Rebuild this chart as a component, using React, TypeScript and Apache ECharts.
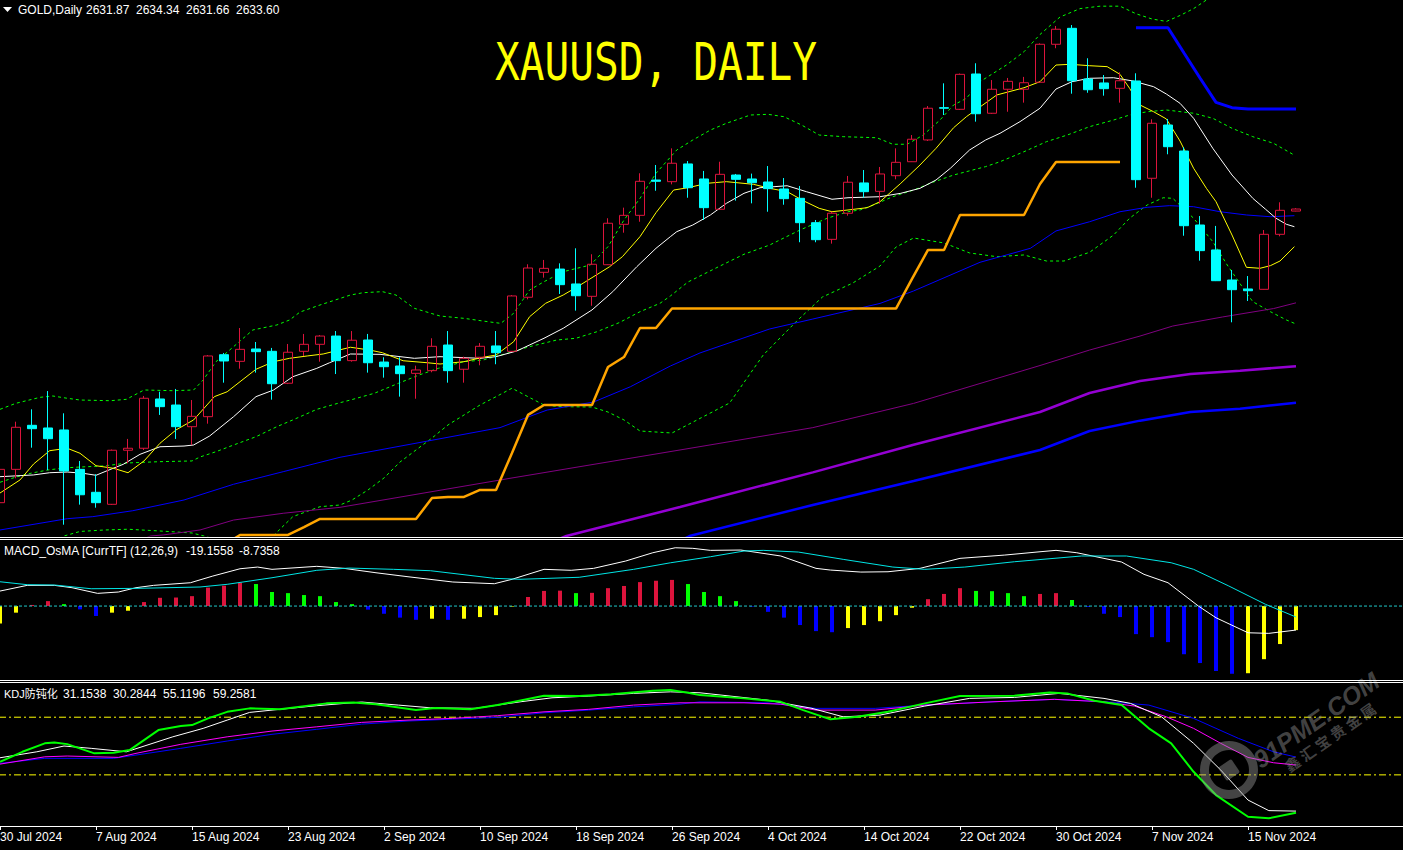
import React, { useEffect, useRef } from "react";
import * as echarts from "echarts";

// ---------- DATA ----------
const SLOTS = 89; // 82 bars + empty space on the right
const tickLabels = ["30 Jul 2024", "7 Aug 2024", "15 Aug 2024", "23 Aug 2024", "2 Sep 2024", "10 Sep 2024", "18 Sep 2024", "26 Sep 2024", "4 Oct 2024", "14 Oct 2024", "22 Oct 2024", "30 Oct 2024", "7 Nov 2024", "15 Nov 2024"];

// [open, close, low, high]
const candles = [
  [2381.6, 2410.2, 2374.7, 2412.5], [2410.2, 2446.3, 2402.5, 2451.1], [2448.0, 2445.1, 2428.8, 2461.7], [2445.7, 2436.5, 2409.6, 2477.4],
  [2444.0, 2408.8, 2362.7, 2458.3], [2410.2, 2388.4, 2379.9, 2417.4], [2390.5, 2381.6, 2377.3, 2406.0], [2380.2, 2426.6, 2379.6, 2427.2],
  [2426.6, 2428.3, 2415.4, 2436.3], [2428.3, 2471.2, 2426.8, 2473.2], [2470.6, 2464.0, 2456.9, 2476.8], [2465.4, 2446.8, 2436.3, 2479.2],
  [2446.8, 2455.7, 2431.1, 2469.7], [2455.4, 2507.5, 2449.4, 2508.3], [2508.6, 2503.2, 2484.6, 2510.1], [2502.9, 2513.2, 2496.6, 2531.5],
  [2513.5, 2511.2, 2493.2, 2519.5], [2511.5, 2483.7, 2470.0, 2514.4], [2484.1, 2510.7, 2483.4, 2517.8], [2511.5, 2517.5, 2507.5, 2526.4],
  [2517.5, 2524.6, 2502.6, 2525.5], [2524.6, 2503.5, 2492.0, 2528.9], [2503.5, 2521.0, 2502.6, 2528.9], [2521.2, 2501.7, 2493.2, 2526.4],
  [2502.3, 2498.3, 2488.9, 2506.4], [2498.9, 2492.3, 2472.6, 2506.4], [2492.6, 2495.5, 2470.8, 2499.2], [2494.9, 2515.8, 2493.5, 2522.7],
  [2516.9, 2494.9, 2484.6, 2528.9], [2496.1, 2505.5, 2484.6, 2506.9], [2506.4, 2515.8, 2499.5, 2518.6], [2516.1, 2510.3, 2500.4, 2528.9],
  [2511.5, 2559.0, 2510.9, 2559.8], [2557.9, 2583.0, 2556.1, 2586.2], [2579.3, 2582.7, 2574.7, 2589.9], [2582.1, 2568.7, 2560.7, 2587.0],
  [2569.3, 2559.2, 2546.4, 2599.9], [2558.7, 2586.2, 2550.6, 2594.8], [2585.8, 2621.4, 2585.6, 2625.7], [2620.5, 2628.2, 2613.3, 2634.8],
  [2628.2, 2657.4, 2622.7, 2664.3], [2658.5, 2657.4, 2649.3, 2671.4], [2657.1, 2672.9, 2654.8, 2685.7], [2672.3, 2651.9, 2643.3, 2674.8],
  [2659.4, 2634.8, 2624.2, 2666.3], [2633.4, 2663.4, 2632.8, 2674.2], [2662.8, 2659.1, 2640.8, 2663.7], [2659.4, 2656.2, 2638.5, 2664.0],
  [2656.8, 2651.1, 2631.3, 2670.5], [2650.8, 2642.5, 2637.3, 2660.2], [2642.8, 2621.9, 2605.1, 2653.4], [2621.9, 2607.3, 2605.1, 2624.2],
  [2607.6, 2630.0, 2603.9, 2631.3], [2630.0, 2656.6, 2627.9, 2662.0], [2656.0, 2648.5, 2643.3, 2667.1], [2648.8, 2663.7, 2638.2, 2669.7],
  [2662.2, 2673.7, 2659.1, 2685.7], [2674.2, 2693.5, 2674.0, 2697.1], [2692.9, 2720.1, 2692.0, 2722.0], [2720.6, 2720.1, 2714.3, 2741.5],
  [2719.2, 2749.2, 2718.6, 2749.9], [2749.5, 2715.4, 2708.6, 2758.7], [2715.8, 2736.4, 2715.2, 2744.3], [2736.4, 2743.2, 2717.1, 2746.1],
  [2736.4, 2742.0, 2724.9, 2747.0], [2742.4, 2775.0, 2741.8, 2775.8], [2775.0, 2787.9, 2771.6, 2790.7], [2788.7, 2743.7, 2732.6, 2791.5],
  [2745.2, 2736.0, 2733.4, 2763.0], [2741.8, 2736.9, 2730.9, 2748.6], [2737.2, 2743.7, 2724.9, 2751.0], [2743.5, 2658.8, 2651.9, 2750.1],
  [2660.0, 2707.2, 2643.3, 2710.6], [2705.7, 2687.1, 2680.6, 2710.9], [2683.4, 2619.3, 2610.7, 2686.6], [2619.9, 2597.9, 2589.3, 2627.6],
  [2598.5, 2572.1, 2571.8, 2619.1], [2572.7, 2564.4, 2536.4, 2581.3], [2565.0, 2563.5, 2554.7, 2576.1], [2564.7, 2611.9, 2564.5, 2615.6],
  [2611.9, 2632.5, 2610.2, 2639.4], [2631.87, 2633.60, 2631.66, 2634.34],
];

// main-panel indicator lines: [bar position, price]
const maFast = [[0,2389.9],[1.25,2401.1],[2.1,2414.8],[3.1,2426.2],[4.2,2428.3],[5,2424.0],[6,2413.3],[7.1,2411.1],[8,2407.3],[9,2417.4],[10,2432.6],[11,2444.0],[12.1,2452.6],[13.4,2472.6],[14.2,2476.8],[15,2485.4],[16,2496.1],[17.1,2502.6],[18.1,2505.5],[19.2,2507.5],[20.2,2509.2],[21.9,2515.0],[23.1,2512.6],[23.9,2510.3],[25.2,2503.4],[26.7,2501.7],[27.5,2500.6],[29,2502.6],[30.2,2506.4],[31,2508.3],[32.1,2519.7],[33.1,2541.2],[34.1,2552.7],[35.2,2559.8],[36.1,2567.0],[37,2574.7],[38.1,2584.1],[38.9,2592.7],[40,2609.9],[41,2630.5],[42.1,2649.9],[43,2651.9],[44.2,2655.7],[45.4,2657.1],[47.1,2654.8],[48.1,2651.4],[49.2,2648.5],[50.2,2640.8],[51.2,2634.2],[52,2631.3],[53,2632.8],[54.2,2634.75],[55,2639.9],[56.3,2655.7],[57.5,2671.4],[58.5,2685.7],[59.6,2703.4],[60.4,2712.85],[61.25,2721.2],[62.3,2731.5],[64,2737.7],[65,2742.9],[66,2757.2],[66.9,2757.8],[68.1,2756.6],[69.2,2755.8],[70,2749.2],[70.6,2737.2],[71.25,2722.9],[72.1,2717.1],[72.9,2710.9],[73.75,2692.0],[74.6,2668.6],[75.4,2651.4],[76,2639.9],[77,2611.3],[77.9,2583.6],[78.75,2582.75],[79.4,2585.0],[80,2589.0],[80.9,2601.3]];
const maSlow = [[0,2403.9],[2.1,2405.4],[3.1,2407.3],[4.2,2407.9],[5.2,2406.8],[6,2405.1],[6.7,2409.05],[7.7,2414.5],[8.75,2423.1],[10,2429.6],[11.5,2430.2],[12.1,2431.1],[13.1,2438.8],[14.6,2455.4],[16,2472.6],[17.1,2478.3],[18.3,2489.7],[19.8,2496.9],[20.6,2501.7],[21.9,2509.2],[23.75,2508.9],[25.9,2505.5],[27.5,2506.9],[30,2505.5],[31,2506.9],[32.3,2511.8],[34,2522.7],[35.2,2531.25],[37,2547.0],[38.3,2562.7],[39.8,2584.1],[41,2599.9],[41.9,2609.9],[42.3,2614.2],[43.3,2619.9],[44.4,2628.5],[45.4,2638.5],[46.5,2647.1],[47.5,2651.9],[49.2,2653.6],[50.4,2648.5],[52,2642.0],[53,2643.3],[55,2644.2],[56.3,2647.1],[57.5,2651.4],[58.5,2658.5],[59.4,2668.6],[60.6,2684.3],[61.6,2692.85],[62.5,2698.6],[63.75,2708.6],[65,2720.1],[66,2736.6],[67,2742.9],[68.1,2745.8],[69.6,2746.3],[70.8,2743.5],[72.1,2738.6],[72.9,2732.3],[73.75,2724.35],[74.6,2711.5],[75.8,2685.7],[77,2662.8],[78.3,2642.8],[79.1,2633.4],[79.75,2625.7],[80.4,2620.5],[80.9,2618.45]];
const bbUpper = [[0,2461.7],[1,2466.9],[2.5,2472.0],[3.3,2473.15],[4.2,2471.2],[5,2469.7],[6.9,2469.1],[7.9,2470.3],[9,2478.3],[10.8,2477.7],[12.1,2478.3],[12.7,2486.9],[13.5,2502.6],[14.6,2515.5],[15.8,2529.8],[17.3,2534.1],[18.1,2538.4],[18.75,2545.2],[20,2551.25],[21.9,2559.8],[22.7,2561.8],[23.9,2562.7],[24.75,2559.8],[25.9,2548.4],[27.5,2541.8],[29,2539.8],[30.5,2536.9],[31.3,2535.5],[32.1,2544.1],[33.1,2564.1],[34,2571.25],[35.2,2579.8],[36.9,2585.6],[38,2601.3],[39,2624.2],[40,2642.8],[41,2664.3],[42.3,2684.3],[43.3,2692.85],[44.4,2701.4],[45.4,2707.2],[46.9,2714.3],[48,2714.9],[49,2712.85],[50.1,2705.7],[51.2,2697.1],[52.7,2695.7],[54.8,2694.8],[55.8,2689.2],[56.7,2689.2],[57.7,2697.1],[58.75,2710.0],[59.6,2722.9],[60.4,2728.6],[61.25,2742.9],[62.9,2757.2],[64,2768.6],[65,2783.4],[66.25,2798.4],[67.5,2805.6],[68.75,2807.7],[70,2807.7],[71,2801.2],[72,2796.7],[72.9,2794.6],[73.75,2799.7],[74.6,2805.6],[75.4,2813],[76.5,2823.3],[78,2834.5],[80,2845.6],[81,2849.9]];
const bbMiddle = [[0,2399.1],[1,2403.6],[2,2407.1],[3,2409.65],[4,2411.4],[5,2412.2],[6.5,2413.1],[8,2415.7],[10,2416.8],[12,2417.4],[12.5,2420.8],[13.5,2425.35],[14.6,2431.1],[16,2438.2],[17.3,2446.8],[18.3,2452.6],[19.8,2461.7],[21.25,2467.4],[21.9,2469.7],[23.4,2475.5],[24.9,2484.05],[26.2,2491.2],[27.4,2496.9],[29,2502.6],[30.2,2504.05],[31.7,2509.8],[33.1,2515.5],[34.8,2521.2],[36,2522.7],[37.3,2528.3],[38.7,2536.1],[40,2545.5],[41.25,2552.7],[41.9,2559.0],[43,2571.0],[45,2584.7],[46.5,2594.8],[48.1,2602.7],[50,2615.6],[51.7,2625.7],[53,2631.3],[53.75,2632.8],[54.6,2637.1],[55.8,2644.2],[57.1,2649.9],[58.3,2656.55],[59.6,2662.8],[60.8,2667.1],[61.6,2670.0],[62.5,2674.2],[64,2682.8],[65.4,2691.4],[66.7,2697.1],[68.1,2704.3],[69.6,2710.0],[70.6,2714.3],[71.7,2717.1],[72.9,2718.6],[74.6,2715.8],[75.8,2711.5],[77,2702.9],[78.3,2695.7],[79.6,2690.0],[80.8,2680.6]];
const bbLower = [[2,2340.0],[3,2345.3],[4,2353.0],[5,2356.9],[6.5,2358.15],[8,2358.8],[10,2357.3],[12,2355.6],[13,2352.1],[14,2345.3],[15,2341.0],[16,2345.3],[17,2352.1],[18.3,2369.6],[20,2378.15],[21.25,2379.6],[22,2383.9],[23,2392.5],[24,2402.8],[25,2416.5],[26,2426.8],[27,2437.1],[28,2448.3],[29,2456.85],[30,2465.4],[31,2472.55],[32,2479.8],[33,2472.55],[34,2465.4],[35,2464.0],[37,2463.7],[38,2459.4],[39,2452.6],[40,2443.1],[42,2441.4],[45.6,2467.15],[47.7,2508.3],[49.8,2537.5],[51.4,2558.1],[53.3,2570.1],[55,2584.7],[56,2601.0],[57.1,2608.75],[59,2604.5],[60.6,2595.9],[62.3,2592.7],[64,2594.2],[65.4,2589.0],[66.5,2589.0],[68.1,2596.5],[69.6,2611.3],[70.6,2625.7],[71.7,2637.1],[72.7,2643.3],[73.3,2642.8],[74.6,2625.7],[75.8,2605.6],[76.7,2585.6],[77.7,2565.6],[78.3,2554.1],[79.4,2545.5],[80.4,2538.4],[80.9,2535.5]];
const maBlueThin = [[0,2358.15],[4.2,2367.85],[5.8,2369.6],[8.3,2374.7],[11.5,2383.9],[14.6,2397.4],[17.7,2408.2],[21.25,2420.55],[31.25,2446.0],[33,2455.1],[34.2,2461.1],[37.1,2468.0],[39.4,2481.1],[41.9,2498.9],[43.75,2510.1],[48.1,2530.65],[50.8,2539.2],[55,2552.6],[57.1,2563.3],[61.25,2587.9],[64.4,2599.9],[66,2614.8],[68.1,2622.7],[70,2631.3],[71.7,2635.1],[73.1,2636.5],[74.6,2635.6],[76.25,2631.3],[77.9,2628.5],[79.4,2627.0],[80.9,2627.9]];
const maPurple = [[8,2345.3],[9.4,2353.0],[10.2,2353.9],[12.5,2358.15],[14.6,2366.7],[17.7,2372.5],[21.25,2377.6],[32,2402.8],[43.75,2429.7],[50.8,2446.0],[57.1,2466.8],[65,2499.3],[68.1,2512.6],[71.25,2524.6],[73.3,2533.2],[76.4,2540.95],[79.6,2548.2],[81,2553.1]];
const maViolet = [[34,2345.3],[35.4,2353.0],[42.5,2377.9],[43.75,2382.4],[50.8,2407.6],[57.1,2431.3],[65,2459.4],[68.1,2475.7],[71.25,2486.0],[74.4,2492.0],[77.5,2494.9],[81,2498.7]];
const maBlueThick = [[42,2345.3],[43.1,2353.0],[50.8,2379.6],[57.1,2400.2],[65,2426.8],[68.1,2443.1],[71.25,2452.0],[74.4,2459.4],[77.5,2462.3],[81,2467.3]];
const stopOrange = [[14,2345.3],[15,2353.9],[18,2353.9],[19,2360.7],[20,2367.6],[26,2367.6],[27,2385.6],[28,2386.5],[29,2386.5],[30,2392.5],[31,2392.5],[32,2424.2],[33,2456.9],[34,2465.4],[37,2465.4],[38,2498.0],[39,2506.6],[40,2531.5],[41,2531.5],[42,2548.2],[56,2548.2],[57,2573.6],[58,2598.5],[59,2598.5],[60,2628.5],[64,2628.5],[65,2655.1],[66,2674.0],[70,2674.0]];
const stopBlue = [[71,2789.2],[73,2789.2],[74,2767.5],[75,2746.1],[76,2725.2],[77,2720.6],[78,2719.5],[81,2719.5]];

// MACD_OsMA panel
const osma = [-6.3,-2.4,0.4,1.8,0.7,-1.2,-3.6,-2.4,-1.7,1.45,3.0,3.1,3.6,6.7,7.4,8.5,8.0,5.1,4.7,4.0,3.6,1.45,0.7,-1.3,-2.8,-4.2,-5.0,-4.6,-5.0,-4.6,-4.0,-3.3,-0.2,3.3,5.5,5.6,4.7,4.8,6.5,7.3,8.7,9.2,9.5,8.0,5.1,3.6,1.8,-0.2,-2.1,-4.2,-6.9,-9.1,-9.5,-8.0,-6.9,-5.5,-3.3,-0.6,2.5,4.4,6.5,5.5,5.4,4.7,3.6,4.4,4.7,2.2,-0.3,-2.8,-4.0,-10.2,-11.3,-13.1,-17.5,-20.7,-23.6,-24.6,-24.4,-19.3,-13.8,-8.7358];
const macdMain = [[0,5.45],[1.7,7.52],[3.4,7.52],[4.5,6.67],[6.1,4.61],[7.4,5.1],[8.5,6.67],[9.6,7.52],[11.9,8.47],[13.3,10.9],[15,13.55],[16.1,14.17],[17,13.34],[19.8,14.43],[21.5,13.7],[23.5,12.1],[25.5,10.65],[28.3,8.74],[30.9,8.12],[32,9.72],[34,13.34],[35.7,12.99],[37.1,13.7],[39.1,16.35],[40.8,19.37],[42.2,21.18],[43.3,20.97],[44.4,20.24],[46.3,20.35],[48.8,18.19],[51,13.7],[51.9,13.08],[53.8,12.35],[55.5,12.46],[57.5,13.7],[60,17.33],[62.8,18.53],[65,19.73],[66,20.24],[67.3,19.37],[70.1,16.0],[71.5,11.52],[73,8.47],[74.9,0],[76,-4.25],[78,-9.7],[79.3,-9.92],[81,-8.72]];
const macdSignal = [[0,8.83],[1.7,7.76],[3.4,7.65],[5.7,6.29],[8.5,6.43],[12.5,6.92],[14.2,7.9],[17,10.29],[19.8,12.99],[21.8,13.81],[24.6,13.34],[26.9,12.84],[30.9,10.07],[32.5,9.72],[36.2,10.45],[39.6,13.34],[41.9,15.72],[44.4,17.92],[46.5,19.99],[47.7,20.24],[49.9,19.62],[52.7,16.97],[55.8,14.17],[57.8,13.34],[60.3,14.17],[63.4,16.1],[67.6,18.19],[70.4,18.19],[73.2,15.73],[74.6,13.34],[76.8,7.29],[79.1,0.62],[81,-3.98]];

// KDJ panel
const kdjGreen = [[0,56.8],[1.4,62.0],[2.8,66.4],[3.4,66.9],[4.2,66.0],[5.9,61.2],[7.1,61.5],[8.1,62.9],[9.9,73.3],[11.3,75.4],[12,75.9],[13,79.4],[14.2,82.8],[15.6,84.6],[17.5,84.1],[20.4,87.2],[22.1,87.7],[23.5,86.8],[26,83.7],[27.2,84.8],[29.4,84.2],[31.1,86.3],[34,91.2],[36.2,91.0],[38.2,91.9],[40.8,93.8],[41.9,94.1],[43,92.7],[43.75,91.5],[46.5,89.8],[48.8,88.0],[50.2,83.7],[51.9,78.9],[53.6,80.2],[55.5,82.8],[57.8,87.2],[60,91.0],[63.4,91.2],[65.6,92.9],[66.7,92.4],[68.4,88.6],[70.1,86.3],[71.8,74.2],[73.2,66.4],[74.6,51.6],[76,39.5],[78,28.2],[79.3,27.4],[81,30.28]];
const kdjWhite = [[0,58.9],[2.3,62.0],[4,65.0],[5.7,63.8],[7.9,62.0],[10.8,69.8],[12.7,74.2],[14.2,78.5],[15.6,82.5],[17,83.7],[19.8,86.0],[22.6,87.9],[24.9,86.3],[26.9,84.9],[29.7,84.6],[32.5,88.0],[34.5,90.1],[36.8,91.0],[39.6,92.4],[41.9,93.2],[43.75,92.7],[47.95,88.9],[50.75,84.6],[52.7,80.2],[55,81.1],[57.8,85.8],[60.6,89.8],[63.4,90.3],[66.2,92.4],[69,89.8],[70.65,87.2],[72.6,80.2],[74.6,66.4],[76.3,52.5],[78,36.9],[79.3,31.4],[81,31.15]];
const kdjMagenta = [[0,55.6],[2.8,59.4],[4.2,59.8],[7.4,59.1],[8.5,61.2],[11.3,65.9],[14.2,69.8],[17,72.8],[19.8,75.0],[22.6,77.3],[25.5,78.5],[28.3,79.4],[31.1,80.8],[34,82.8],[36.8,84.1],[39.6,86.3],[42.5,87.5],[46.5,87.5],[48.8,86.8],[51,83.7],[54.7,83.7],[57.8,86.3],[62,88.0],[65.9,89.3],[69,88.0],[70.9,85.8],[72.9,80.2],[74.6,74.2],[76.3,66.4],[78,59.1],[79.6,56.3],[81,55.12]];
const kdjBlue = [[0,56.0],[2.8,58.6],[7.1,58.6],[8.5,60.3],[11.3,63.8],[14.2,67.6],[17,71.1],[19.8,73.7],[22.6,76.4],[25.5,78.0],[28.3,79.0],[31.1,79.9],[34,82.3],[36.8,83.7],[39.6,85.4],[42.5,86.8],[43.75,88.0],[48,87.5],[51,84.6],[54.7,84.6],[57.8,86.3],[62,88.0],[65.9,89.3],[69.8,87.7],[71.8,86.3],[74.6,79.4],[77.4,69.0],[79.6,62.0],[81,59.26]];
const kdjLevels = [80, 50];

// ---------- LAYOUT ----------
const OX = 8; // chart canvas starts 8px left of the page so bar 0 sits at the page edge
const PAGE_W = 1403;
const CHART_W = SLOTS * 16; // 1424
const FONT = '"Liberation Sans", Arial, "Noto Sans CJK SC", sans-serif';
const categories = Array.from({ length: SLOTS }, (_, i) => String(i));
const isTick = (i: number) => i % 6 === 0 && i / 6 < tickLabels.length;

function line(data: number[][], xi: number, yi: number, color: string, width: number, type: any = "solid", z = 2) {
  return {
    type: "line", xAxisIndex: xi, yAxisIndex: yi, data, showSymbol: false, symbol: "none",
    lineStyle: { color, width, type }, silent: true, z, clip: true,
  };
}

function buildOption() {
  const grids = [
    { left: 0, right: 0, top: 0, height: 536 },
    { left: 0, right: 0, top: 540, height: 139 },
    { left: 0, right: 0, top: 683, height: 143 },
  ];
  const xAxis: any[] = [];
  grids.forEach((_, g) => {
    xAxis.push({
      type: "category", gridIndex: g, data: categories, boundaryGap: true, show: g === 2,
      axisLine: { show: false },
      axisTick: { show: g === 2, alignWithLabel: true, length: 4, interval: (i: number) => isTick(i), lineStyle: { color: "#ffffff" } },
      axisLabel: {
        show: g === 2, interval: (i: number) => isTick(i), formatter: (_v: string, i: number) => (isTick(i) ? tickLabels[i / 6] : ""),
        color: "#ffffff", fontFamily: FONT, fontSize: 12, align: "left", margin: 5, hideOverlap: false,
      },
      splitLine: { show: false },
    });
    xAxis.push({ type: "value", gridIndex: g, min: -0.5, max: SLOTS - 0.5, show: false, splitLine: { show: false } });
  });
  const yAxis = [
    { type: "value", gridIndex: 0, min: 2353, max: 2813, show: false, splitLine: { show: false } },
    { type: "value", gridIndex: 1, min: -26.5, max: 24, show: false, splitLine: { show: false } },
    { type: "value", gridIndex: 2, min: 23.4, max: 97.8, show: false, splitLine: { show: false } },
  ];

  const osmaBars = osma.map((v, i) => {
    const rising = i === 0 || v >= osma[i - 1];
    const color = v >= 0 ? (rising ? "#DC143C" : "#00FF00") : rising ? "#FFFF00" : "#0000FF";
    return { value: v, itemStyle: { color } };
  });

  const full = (v: number) => [[-1, v], [SLOTS, v]];

  const series: any[] = [
    line(bbUpper, 1, 0, "#00FF00", 1, [3, 3]),
    line(bbMiddle, 1, 0, "#00FF00", 1, [3, 3]),
    line(bbLower, 1, 0, "#00FF00", 1, [3, 3]),
    line(maBlueThin, 1, 0, "#0000FF", 1),
    line(maPurple, 1, 0, "#800080", 1),
    line(maViolet, 1, 0, "#9400D3", 2.5),
    line(maBlueThick, 1, 0, "#0000FF", 2.5),
    line(stopOrange, 1, 0, "#FFA500", 2.5),
    line(stopBlue, 1, 0, "#0000FF", 3),
    line(maSlow, 1, 0, "#FFFFFF", 1),
    line(maFast, 1, 0, "#FFFF00", 1),
    {
      type: "candlestick", xAxisIndex: 0, yAxisIndex: 0, data: candles, barWidth: 10, z: 5, silent: true,
      itemStyle: { color: "rgba(0,0,0,0)", color0: "#00FFFF", borderColor: "#DC143C", borderColor0: "#00FFFF", borderWidth: 1 },
    },
    { type: "bar", xAxisIndex: 2, yAxisIndex: 1, data: osmaBars, barWidth: 4, silent: true, z: 2 },
    line(full(0), 3, 1, "#20C8C8", 1, [3, 2], 3),
    line(macdMain, 3, 1, "#FFFFFF", 1, "solid", 4),
    line(macdSignal, 3, 1, "#00E5E5", 1, "solid", 4),
    ...kdjLevels.map((lv) => line(full(lv), 5, 2, "#FFFF00", 1, [7, 3, 2, 3], 2)),
    line(kdjBlue, 5, 2, "#0000FF", 1, "solid", 3),
    line(kdjMagenta, 5, 2, "#FF00FF", 1, "solid", 3),
    line(kdjWhite, 5, 2, "#FFFFFF", 1, "solid", 4),
    line(kdjGreen, 5, 2, "#00FF00", 2, "solid", 5),
  ];

  const txt = (x: number, y: number, text: string, size = 12, fill = "#FFFFFF") => ({
    type: "text", x: x + OX, y, silent: true, z: 100,
    style: { text, fill, font: `${size}px ${FONT}`, verticalAlign: "middle", textVerticalAlign: "middle" },
  });
  const hline = (y: number) => ({ type: "line", silent: true, z: 100, shape: { x1: OX, y1: y, x2: OX + PAGE_W, y2: y }, style: { stroke: "#FFFFFF", lineWidth: 1 } });
  const wm = "rgba(150,150,150,0.45)";

  const graphic: any[] = [
    hline(537.5), hline(539.5), hline(680.5), hline(682.5), hline(826.5),
    { type: "polygon", silent: true, z: 100, shape: { points: [[3 + OX, 7], [12 + OX, 7], [7.5 + OX, 12]] }, style: { fill: "#FFFFFF" } },
    txt(18, 9.5, "GOLD,Daily"),
    txt(86, 9.5, "2631.87"), txt(136, 9.5, "2634.34"), txt(186, 9.5, "2631.66"), txt(236, 9.5, "2633.60"),
    txt(4, 551, "MACD_OsMA [CurrTF] (12,26,9)"), txt(186, 551, "-19.1558"), txt(239, 551, "-8.7358"),
    txt(4, 694, "KDJ防钝化", 11), txt(63, 694, "31.1538"), txt(113, 694, "30.2844"), txt(163, 694, "55.1196"), txt(213, 694, "59.2581"),
    {
      type: "text", x: 495 + OX, y: 62, scaleX: 0.807, silent: true, z: 100,
      style: { text: "XAUUSD, DAILY", fill: "#FFFF00", font: '51px "DejaVu Sans Mono", monospace', verticalAlign: "middle", textVerticalAlign: "middle" },
    },
    // watermark
    { type: "ring", silent: true, z: 90, shape: { cx: 1229 + OX, cy: 770, r: 29, r0: 20 }, style: { fill: wm } },
    { type: "rect", silent: true, z: 90, x: 1229 + OX, y: 770, rotation: 0.6, shape: { x: -8, y: -8, width: 16, height: 16, r: 2 }, style: { fill: wm } },
    {
      type: "text", x: 1316 + OX, y: 720, rotation: 0.61, silent: true, z: 90,
      style: { text: "91PME.COM", fill: wm, font: `italic bold 25px ${FONT}`, align: "center", textAlign: "center", verticalAlign: "middle", textVerticalAlign: "middle" },
    },
    {
      type: "text", x: 1330 + OX, y: 737, rotation: 0.61, silent: true, z: 90,
      style: { text: "鑫 汇 宝 贵 金 属", fill: wm, font: `bold 15px "Noto Sans CJK SC", sans-serif`, align: "center", textAlign: "center", verticalAlign: "middle", textVerticalAlign: "middle" },
    },
  ];

  return {
    animation: false,
    backgroundColor: "#000000",
    grid: grids,
    xAxis,
    yAxis,
    series,
    graphic,
  };
}

export default function App() {
  const ref = useRef<HTMLDivElement>(null);
  useEffect(() => {
    document.body.style.margin = "0";
    document.body.style.overflow = "hidden";
    document.body.style.background = "#000";
    const chart = echarts.init(ref.current!, null, { renderer: "svg" });
    chart.setOption(buildOption() as any);
    return () => chart.dispose();
  }, []);
  return (
    <div style={{ position: "relative", width: PAGE_W, height: 850, overflow: "hidden", background: "#000" }}>
      <div ref={ref} style={{ position: "absolute", left: -OX, top: 0, width: CHART_W, height: 850 }} />
    </div>
  );
}
